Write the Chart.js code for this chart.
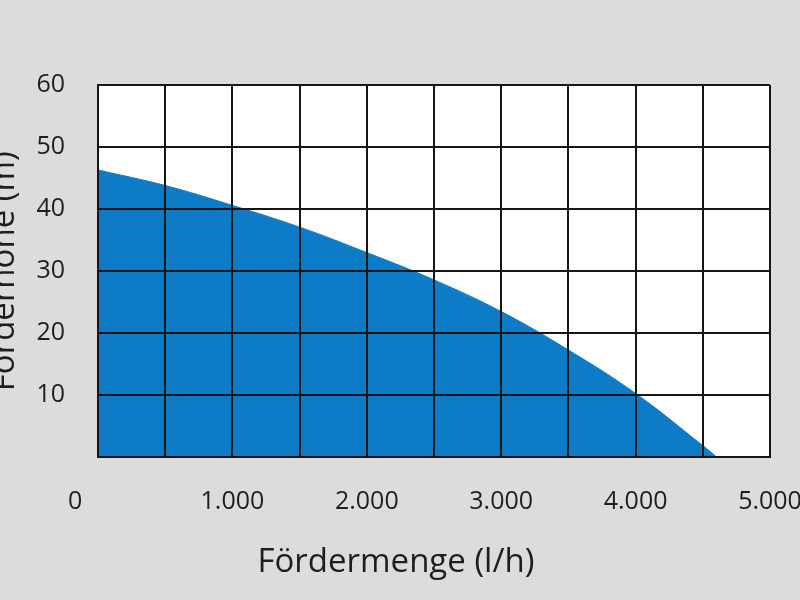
<!DOCTYPE html>
<html>
<head>
<meta charset="utf-8">
<script src="https://cdn.jsdelivr.net/npm/chart.js@4"></script>
<style>
  html, body { margin:0; padding:0; background:#dcdcdc; overflow:hidden; width:800px; height:600px; }
  #wrap { position:absolute; left:-40px; top:0; width:872px; height:600px; }
</style>
</head>
<body>
<div id="wrap"><canvas id="c"></canvas></div>
<script>
// Data
const flowValues = [0, 500, 1000, 1500, 2000, 2500, 3000, 3500, 4000, 4500, 4606];   // l/h
const headValues = [46.3, 43.8, 40.6, 37.1, 33.0, 28.6, 23.5, 17.3, 10.3, 1.9, 0];  // m
const xTickValues = [0, 1000, 2000, 3000, 4000, 5000];
const xTickLabels = ['0', '1.000', '2.000', '3.000', '4.000', '5.000'];
const yTickLabels = ['', '10', '20', '30', '40', '50', '60'];
const xTitle = 'Fördermenge (l/h)';
const yTitle = 'Förderhöhe (m)';

const FONT = "'Open Sans', 'Noto Sans', sans-serif";
const GRID = '#161616';
const TEXT = '#1e1e1e';

const plotBg = {
  id: 'plotBg',
  beforeDraw(chart) {
    const { ctx, chartArea: a } = chart;
    ctx.save();
    ctx.fillStyle = '#ffffff';
    ctx.fillRect(a.left, a.top, a.right - a.left, a.bottom - a.top);
    ctx.restore();
  }
};

new Chart(document.getElementById('c'), {
  type: 'line',
  data: {
    datasets: [{
      data: flowValues.map((f, i) => ({ x: f, y: headValues[i] })),
      fill: 'origin',
      backgroundColor: '#0d7bc5',
      borderColor: '#0d7bc5',
      borderWidth: 1,
      pointRadius: 0,
      tension: 0.4
    }]
  },
  plugins: [plotBg],
  options: {
    responsive: true,
    maintainAspectRatio: false,
    animation: false,
    devicePixelRatio: 1,
    layout: { padding: { left: 0, top: 85, right: 0, bottom: 0 } },
    plugins: {
      legend: { display: false },
      tooltip: { enabled: false },
      title: {
        display: true,
        position: 'bottom',
        text: xTitle,
        color: TEXT,
        font: { family: FONT, size: 33, weight: 'normal' },
        padding: { top: 0, bottom: 18 }
      }
    },
    scales: {
      x: {
        type: 'linear',
        min: 0, max: 5000,
        afterBuildTicks(scale) {
          const t = [];
          for (let v = 0; v <= 5000; v += 500) t.push({ value: v });
          scale.ticks = t;
        },
        afterFit(scale) { scale.height = 85; },
        grid: { color: GRID, lineWidth: 2, drawTicks: false, z: 1 },
        border: { color: GRID, width: 2, z: 1 },
        ticks: {
          autoSkip: false, maxRotation: 0, padding: 29,
          color: TEXT,
          font: { family: FONT, size: 25 },
          callback(v) {
            const i = xTickValues.indexOf(v);
            if (i < 0) return '';
            return i === 0 ? xTickLabels[i] + '       ' : xTickLabels[i];
          }
        }
      },
      y: {
        type: 'linear',
        min: 0, max: 60,
        afterFit(scale) { scale.width = 138; },
        grid: { color: GRID, lineWidth: 2, drawTicks: false, z: 1 },
        border: { color: GRID, width: 2, z: 1 },
        ticks: {
          stepSize: 10, padding: 33,
          color: TEXT,
          font: { family: FONT, size: 25 },
          callback(v) { return yTickLabels[Math.round(v / 10)]; }
        },
        title: {
          display: true,
          text: yTitle,
          color: TEXT,
          font: { family: FONT, size: 33, weight: 'normal' },
          padding: { top: 25, bottom: 0 }
        }
      },
      spacer: {
        type: 'linear',
        position: 'right',
        display: true,
        grid: { display: false },
        border: { display: false },
        ticks: { display: false },
        afterFit(scale) { scale.width = 62; }
      }
    }
  }
});
</script>
</body>
</html>
